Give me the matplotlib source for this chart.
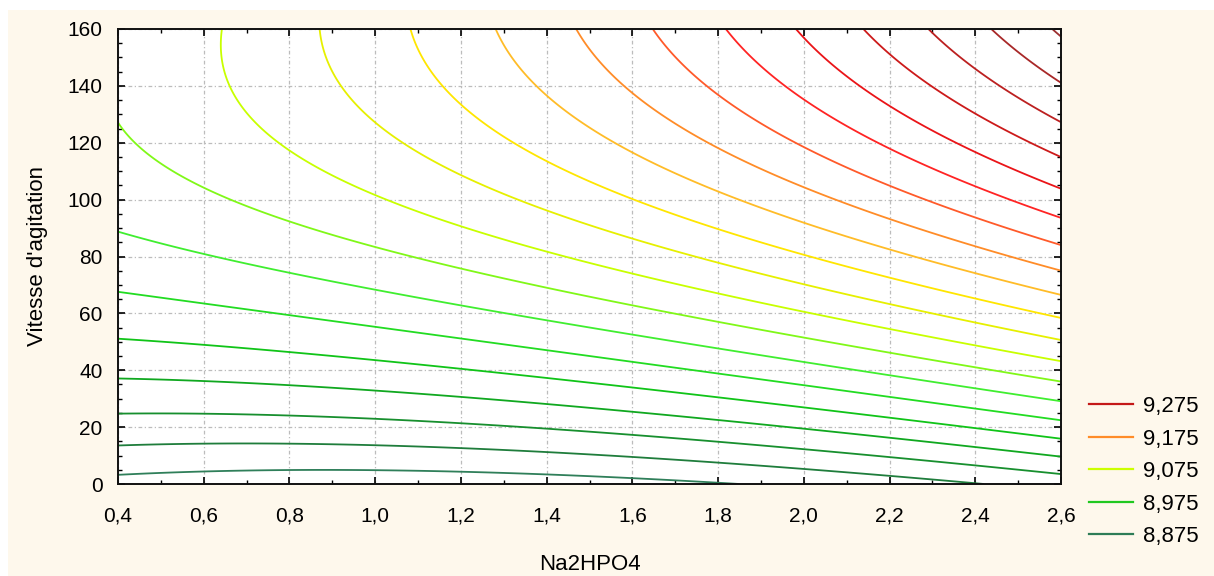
import numpy as np
import matplotlib
matplotlib.use("Agg")
import matplotlib.pyplot as plt
from matplotlib.lines import Line2D
from matplotlib.patches import Rectangle
from matplotlib.ticker import MultipleLocator, FuncFormatter

plt.rcParams['font.family'] = ['Liberation Sans', 'DejaVu Sans']

# fitted response surface: z = b0 + b1*x + b2*y + b11*x^2 + b22*y^2 + b12*x*y
b0 = 8.8785
b1 = -0.03683
b2 = 0.0022778
b11 = 0.018892
b22 = -8.9e-6
b12 = 0.000737

x_range = [0.4, 2.6]
y_range = [0, 160]

levels = [8.875 + 0.025 * k for k in range(20)]
level_colors = ["#2f7f5a", "#1f7d3c", "#178f2e", "#10a820", "#10c418",
                "#22dc22", "#40ee30", "#80f818", "#c8ff00", "#e6f000",
                "#ffe600", "#ffbc28", "#ff8c28", "#ff5a2a", "#ff2424",
                "#ea1418", "#cc1a1a", "#bc2020", "#a82828", "#9c3030"]

legend_values = ["9,275", "9,175", "9,075", "8,975", "8,875"]
legend_colors = ["#c41818", "#ff8c28", "#ccff00", "#20c820", "#2e7d57"]

x_label = "Na2HPO4"
y_label = "Vitesse d'agitation"


def surface(x, y):
    return b0 + b1 * x + b2 * y + b11 * x ** 2 + b22 * y ** 2 + b12 * x * y


xs = np.linspace(x_range[0], x_range[1], 300)
ys = np.linspace(y_range[0], y_range[1], 300)
X, Y = np.meshgrid(xs, ys)
Z = surface(X, Y)

fig = plt.figure(figsize=(12.14, 5.76), dpi=100, facecolor="white")
# cream panel behind everything
fig.add_artist(Rectangle((8 / 1214, 0), 1 - 8 / 1214, 1 - 10 / 576,
                         transform=fig.transFigure, facecolor="#fef8ec",
                         edgecolor="none", zorder=-10))

ax = fig.add_axes([118 / 1214, 1 - 484 / 576, (1061 - 118) / 1214, (484 - 29) / 576])
ax.set_facecolor("white")

ax.contour(X, Y, Z, levels=levels, colors=level_colors, linewidths=1.3)

ax.set_xlim(x_range)
ax.set_ylim(y_range)

ax.xaxis.set_major_locator(MultipleLocator(0.2))
ax.xaxis.set_minor_locator(MultipleLocator(0.1))
ax.yaxis.set_major_locator(MultipleLocator(20))
ax.yaxis.set_minor_locator(MultipleLocator(5))

ax.xaxis.set_major_formatter(FuncFormatter(lambda v, p: ("%.1f" % v).replace(".", ",")))
ax.yaxis.set_major_formatter(FuncFormatter(lambda v, p: "%d" % round(v)))

ax.tick_params(which="both", direction="in", top=True, right=True,
               colors="black", labelsize=15)
ax.tick_params(which="major", length=5, width=1.2)
ax.tick_params(which="minor", length=3, width=1.0)
ax.tick_params(axis="x", which="major", pad=16)
ax.tick_params(axis="y", which="major", pad=11)

for s in ax.spines.values():
    s.set_linewidth(1.4)
    s.set_color("#111111")

ax.grid(True, which="major", color="#bcbcbc", linewidth=0.9,
        linestyle=(0, (3, 2, 1, 2)))
ax.set_axisbelow(True)

ax.set_xlabel(x_label, fontsize=16, labelpad=21)
ax.set_ylabel(y_label, fontsize=16, labelpad=14)

handles = [Line2D([], [], color=c, linewidth=1.6) for c in legend_colors]
fig.legend(handles, legend_values, loc="upper left",
           bbox_to_anchor=(1069 / 1214, 1 - 376 / 576), frameon=False,
           fontsize=16, handlelength=2.0, handletextpad=0.45, labelspacing=0.52)

fig.savefig("out.png", dpi=100, facecolor=fig.get_facecolor())
